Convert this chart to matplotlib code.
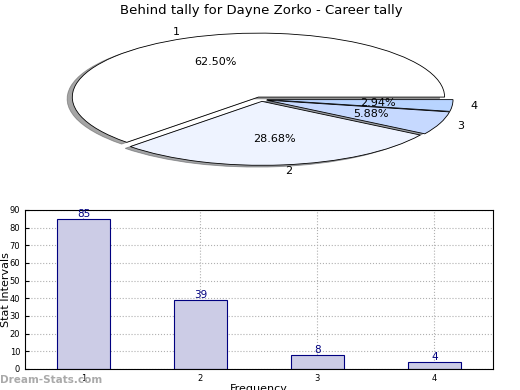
import numpy as np, matplotlib
matplotlib.use('Agg')
import matplotlib.pyplot as plt

## values
categories=['1','2','3','4']
tally=[85,39,8,4]
pie_colors=['#ffffff','#eef3ff','#c6d9ff','#b8d4ff']
yticks=[0,10,20,30,40,50,60,70,80,90]

fig=plt.figure(figsize=(5.2,3.9),dpi=100)

# pie on top, stretched wide
ax1=fig.add_axes([0.055,0.54,0.895,0.41])
wedges,texts,autotexts=ax1.pie(tally,labels=categories,colors=pie_colors,
    explode=[0.04,0.03,0.03,0.03],autopct='%.2f%%',shadow=True,startangle=0,
    pctdistance=0.6,labeldistance=1.1,
    wedgeprops={'edgecolor':'black','linewidth':0.6},
    textprops={'fontsize':8})
ax1.set_aspect('auto')
ax1.set_xlim(-1.25,1.25)
ax1.set_ylim(-1.25,1.25)
ax1.set_title('Behind tally for Dayne Zorko - Career tally',fontsize=9.5,pad=4)

# bar chart below
ax2=fig.add_axes([0.048,0.054,0.9,0.408])
x=np.arange(1,len(tally)+1)
ax2.bar(x,tally,width=0.45,color='#ccccE6',edgecolor='#000080',linewidth=0.8,zorder=2)
for xi,v in zip(x,tally):
    ax2.text(xi,v,str(v),ha='center',va='bottom',color='#000080',fontsize=7.5,zorder=3)
ax2.set_xlim(0.5,4.5)
ax2.set_ylim(0,90)
ax2.set_xticks(x)
ax2.set_xticklabels(categories)
ax2.set_yticks(yticks)
ax2.tick_params(labelsize=6,direction='in',length=3)
ax2.grid(True,linestyle=':',color='#b0b0b0',linewidth=0.8)
ax2.set_ylabel('Stat Intervals',fontsize=8)
ax2.yaxis.set_label_coords(-0.03,0.5)
ax2.set_xlabel('Frequency',fontsize=8,labelpad=1)

fig.text(0.0,0.025,'Dream-Stats.com',color='#aaaaaa',fontsize=7.5,fontweight='bold',ha='left',va='center')

fig.savefig('out.png',dpi=100)
